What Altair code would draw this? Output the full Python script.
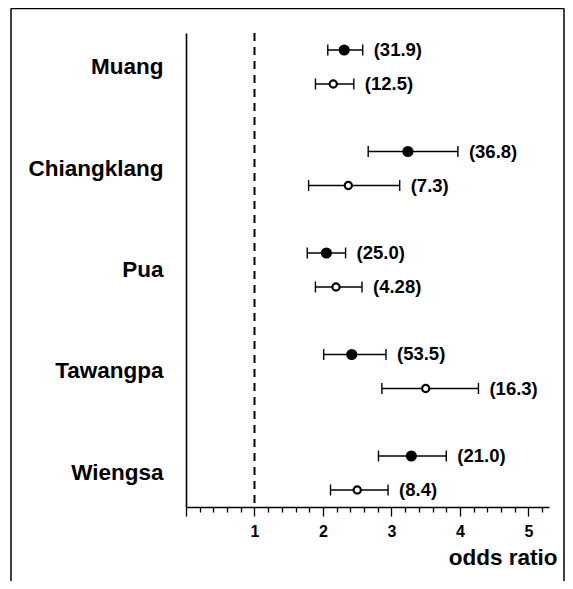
import altair as alt
import pandas as pd

regions = ["Muang", "Chiangklang", "Pua", "Tawangpa", "Wiengsa"]
kinds = ["filled", "open"]

or_filled = [2.31, 3.24, 2.05, 2.42, 3.29]
lo_filled = [2.07, 2.66, 1.77, 2.01, 2.81]
hi_filled = [2.58, 3.97, 2.33, 2.92, 3.80]
lab_filled = ["(31.9)", "(36.8)", "(25.0)", "(53.5)", "(21.0)"]

or_open = [2.15, 2.37, 2.19, 3.50, 2.50]
lo_open = [1.89, 1.79, 1.89, 2.86, 2.11]
hi_open = [2.45, 3.12, 2.57, 4.27, 2.95]
lab_open = ["(12.5)", "(7.3)", "(4.28)", "(16.3)", "(8.4)"]

x_tick_values = [0, 0.2, 0.4, 0.6, 0.8, 1, 1.2, 1.4, 1.6, 1.8, 2, 2.2, 2.4, 2.6, 2.8,
                 3, 3.2, 3.4, 3.6, 3.8, 4, 4.2, 4.4, 4.6, 4.8, 5, 5.2]

rows = []
for i, r in enumerate(regions):
    rows.append(dict(region=r, kind="filled", odds=or_filled[i], lo=lo_filled[i],
                     hi=hi_filled[i], label=lab_filled[i]))
    rows.append(dict(region=r, kind="open", odds=or_open[i], lo=lo_open[i],
                     hi=hi_open[i], label=lab_open[i]))
df = pd.DataFrame(rows)

FONT = "Liberation Sans"
major = "abs(datum.value - round(datum.value)) < 0.01"

x_axis = alt.Axis(
    title="odds ratio", values=x_tick_values, tickCount=60, grid=False,
    labelExpr="(abs(datum.value - round(datum.value)) < 0.01 && datum.value > 0.5) ? format(datum.value, 'd') : ''",
    labelOverlap=False, labelBound=False,
    tickSize={"condition": {"test": major, "value": 9}, "value": 5},
    tickColor="black", tickWidth=1.3, domainColor="black", domainWidth=1.6,
    labelFont=FONT, labelFontSize=16, labelFontWeight="bold", labelColor="black",
    labelPadding=7, labelFlush=False,
    titleFont=FONT, titleFontSize=22.5, titleFontWeight="bold", titleColor="black",
    titleAnchor="end", titleAlign="right", titleBaseline="alphabetic",
    titleX=371, titleY=57,
)

x_scale = alt.Scale(domain=[0, 5.3], nice=False, zero=False)

y_enc = alt.Y("region:N", sort=regions,
              scale=alt.Scale(paddingInner=0.33, paddingOuter=0),
              axis=alt.Axis(title=None, ticks=False, labelPadding=23, labelFont=FONT,
                            labelFontSize=22.5, labelFontWeight="bold", labelColor="black",
                            domainColor="black", domainWidth=1.6))
yo_enc = alt.YOffset("kind:N", scale=alt.Scale(domain=kinds))

base = alt.Chart(df)

ci = base.mark_rule(color="black", strokeWidth=1.4).encode(
    x=alt.X("lo:Q", scale=x_scale, axis=x_axis), x2="hi:Q", y=y_enc, yOffset=yo_enc)

cap_lo = base.mark_tick(orient="vertical", size=11, thickness=1.4, color="black", opacity=1).encode(
    x=alt.X("lo:Q", scale=x_scale, axis=x_axis), y=y_enc, yOffset=yo_enc)
cap_hi = base.mark_tick(orient="vertical", size=11, thickness=1.4, color="black", opacity=1).encode(
    x=alt.X("hi:Q", scale=x_scale, axis=x_axis), y=y_enc, yOffset=yo_enc)

pts = base.mark_point(shape="circle", stroke="black", strokeWidth=2.2, opacity=1, fillOpacity=1).encode(
    x=alt.X("odds:Q", scale=x_scale, axis=x_axis), y=y_enc, yOffset=yo_enc,
    fill=alt.Fill("kind:N", scale=alt.Scale(domain=kinds, range=["black", "white"]), legend=None),
    size=alt.Size("kind:N", scale=alt.Scale(domain=kinds, range=[80, 52]), legend=None),
)

labels = base.mark_text(align="left", baseline="middle", dx=11, font=FONT, fontSize=18.5,
                        fontWeight="bold", color="black").encode(
    x=alt.X("hi:Q", scale=x_scale, axis=x_axis), y=y_enc, yOffset=yo_enc, text="label:N")

ref = alt.Chart(alt.Data(values=[{"v": 1}])).mark_rule(
    color="black", strokeWidth=2, strokeDash=[8, 6]).encode(
    x=alt.X("v:Q", scale=x_scale, axis=x_axis))

frame_src = alt.Data(values=[{"a": 0}])
frame_left = alt.Chart(frame_src).mark_rule(color="black", strokeWidth=1.5).encode(
    x=alt.value(-175), y=alt.value(-24.5), y2=alt.value(548))
frame_top = alt.Chart(frame_src).mark_rule(color="black", strokeWidth=1.5).encode(
    x=alt.value(-175), x2=alt.value(378), y=alt.value(-24.5))
frame_right = alt.Chart(frame_src).mark_rule(color="black", strokeWidth=1.5).encode(
    x=alt.value(378), y=alt.value(-24.5), y2=alt.value(548))

chart = alt.layer(ref, ci, cap_lo, cap_hi, pts, labels, frame_left, frame_top, frame_right).properties(
    width=363, height=474,
    autosize=alt.AutoSizeParams(type="none"),
    padding={"left": 178, "top": 25, "right": 16, "bottom": 74},
).configure(font=FONT).configure_view(strokeWidth=0, stroke="transparent")

chart.save("out.html", embed_options={"renderer": "svg", "actions": False})
